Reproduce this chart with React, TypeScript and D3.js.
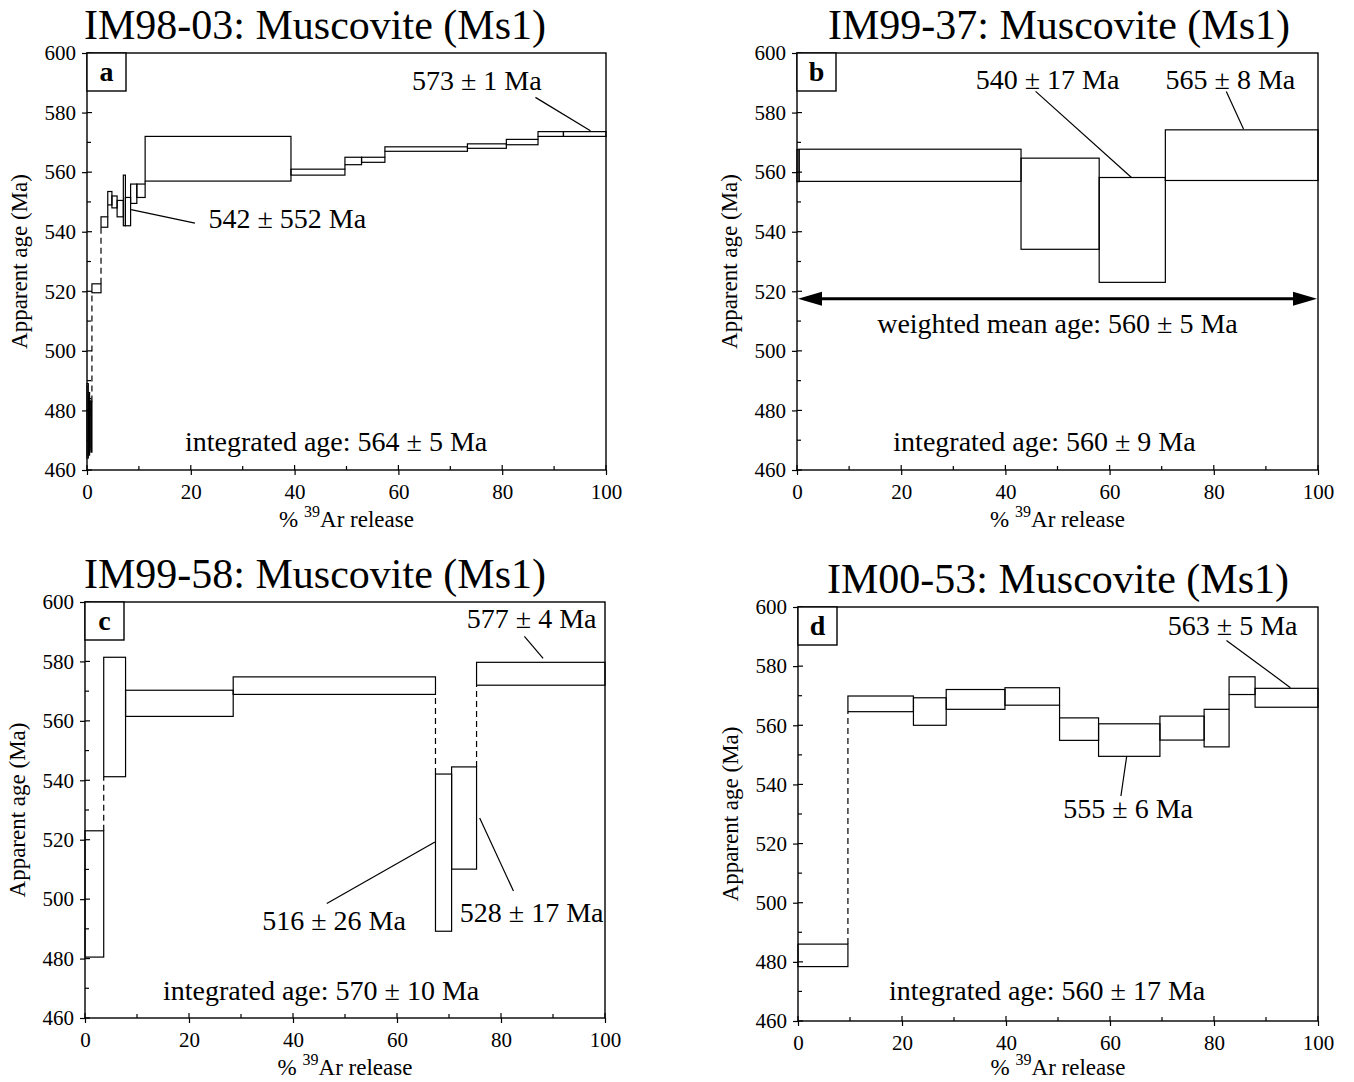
import React, { useEffect, useRef } from "react";
import * as d3 from "d3";

// step boundaries (% 39Ar released) and age ranges (Ma) per sample
const releaseA = [0, 0.25, 0.5, 0.75, 0.95, 2.7, 4.0, 4.8, 5.8, 7.0, 7.4, 8.4, 9.6, 11.2, 39.3, 49.7, 52.9, 57.4, 73.3, 80.8, 86.9, 91.8, 100];
const lowA = [464, 465, 467, 466, 519.5, 541.5, 549, 548, 545, 542, 542, 549.5, 551.5, 557, 559, 562.5, 563.3, 567, 568, 569.2, 572, 572];
const highA = [489, 486, 484, 483, 522.5, 545, 553.5, 552, 550.5, 559, 551.5, 556, 556, 572, 561, 565, 565, 568.5, 569.5, 571, 573.6, 573.6];

const releaseB = [0, 0.4, 43.0, 58.0, 70.7, 100];
const lowB = [556.8, 556.9, 534.1, 523.0, 557.2];
const highB = [567.6, 567.7, 564.7, 558.2, 574.2];

const releaseC = [0, 3.6, 7.8, 28.5, 67.4, 70.5, 75.3, 100];
const lowC = [480.5, 541.2, 561.5, 568.9, 489.2, 510.1, 572.0];
const highC = [523.0, 581.4, 570.3, 574.8, 542.1, 544.5, 579.7];

const releaseD = [0, 9.6, 22.2, 28.5, 39.8, 50.3, 57.8, 69.6, 78.1, 82.9, 87.9, 100];
const lowD = [478.4, 564.6, 560.0, 565.4, 566.8, 554.9, 549.5, 555.0, 552.7, 570.4, 566.1];
const highD = [486.0, 569.9, 569.3, 572.1, 572.7, 562.5, 560.5, 563.1, 565.4, 576.4, 572.5];

const yTicks = [460, 480, 500, 520, 540, 560, 580, 600];
const yMinor = [470, 490, 510, 530, 550, 570, 590];
const xTicks = [0, 20, 40, 60, 80, 100];
const xMinor = [10, 30, 50, 70, 90];

const panels = [
  {
    letter: "a", title: "IM98-03: Muscovite (Ms1)", titleX: 315,
    release: releaseA, low: lowA, high: highA,
    left: 87, top: 53, width: 519, height: 417, xTitleGap: 57,
    integrated: "integrated age: 564 \u00b1 5 Ma", intAt: [48, 466.3],
    notes: [
      { text: "573 \u00b1 1 Ma", at: [75.1, 587.5], line: [[86.4, 585.1], [97, 573.9]] },
      { text: "542 \u00b1 552 Ma", at: [38.6, 541.1], line: [[8.5, 547.4], [20.8, 542.9]] },
    ],
  },
  {
    letter: "b", title: "IM99-37: Muscovite (Ms1)", titleX: 1059,
    release: releaseB, low: lowB, high: highB,
    left: 797, top: 53, width: 521, height: 417, xTitleGap: 57,
    integrated: "integrated age: 560 \u00b1 9 Ma", intAt: [47.5, 466.3],
    weighted: { text: "weighted mean age: 560 \u00b1 5 Ma", age: 517.5, at: [50, 506] },
    notes: [
      { text: "540 \u00b1 17 Ma", at: [48.1, 588], line: [[45.8, 587.1], [64.2, 558.2]] },
      { text: "565 \u00b1 8 Ma", at: [83.2, 588], line: [[82.4, 587.1], [85.7, 574.5]] },
    ],
  },
  {
    letter: "c", title: "IM99-58: Muscovite (Ms1)", titleX: 315,
    release: releaseC, low: lowC, high: highC,
    left: 85, top: 602, width: 520, height: 416, xTitleGap: 57,
    integrated: "integrated age: 570 \u00b1 10 Ma", intAt: [45.4, 466],
    notes: [
      { text: "577 \u00b1 4 Ma", at: [85.9, 591.2], line: [[84.5, 588.4], [88.1, 581]] },
      { text: "516 \u00b1 26 Ma", at: [47.9, 489.5], line: [[46.5, 498.5], [67.3, 519.2]] },
      { text: "528 \u00b1 17 Ma", at: [85.9, 492.3], line: [[82.4, 502.7], [75.9, 527.3]] },
    ],
  },
  {
    letter: "d", title: "IM00-53: Muscovite (Ms1)", titleX: 1058,
    release: releaseD, low: lowD, high: highD,
    left: 798, top: 607, width: 520, height: 414, xTitleGap: 54,
    integrated: "integrated age: 560 \u00b1 17 Ma", intAt: [47.9, 467],
    notes: [
      { text: "563 \u00b1 5 Ma", at: [83.6, 590.7], line: [[82.4, 588.7], [94.7, 572.7]] },
      { text: "555 \u00b1 6 Ma", at: [63.5, 528.8], line: [[62.1, 536.1], [63.2, 549.4]] },
    ],
  },
];

const FONT = "'Liberation Serif', 'Times New Roman', serif";

const App = () => {
  const svgRef = useRef(null);

  useEffect(() => {
    const svg = d3.select(svgRef.current);
    svg.selectAll("*").remove();

    panels.forEach((p) => {
      const g = svg.append("g").attr("font-family", FONT);
      const x = d3.scaleLinear().domain([0, 100]).range([p.left, p.left + p.width]);
      const y = d3.scaleLinear().domain([460, 600]).range([p.top + p.height, p.top]);
      const bottom = p.top + p.height;

      // title
      g.append("text")
        .attr("x", p.titleX)
        .attr("y", p.top - 14)
        .attr("text-anchor", "middle")
        .attr("font-size", 42)
        .text(p.title);

      // steps
      const steps = p.low.map((lo, i) => ({
        x0: p.release[i],
        x1: p.release[i + 1],
        lo,
        hi: p.high[i],
      }));

      g.selectAll(".step")
        .data(steps)
        .join("rect")
        .attr("class", "step")
        .attr("x", (d) => x(d.x0))
        .attr("y", (d) => y(d.hi))
        .attr("width", (d) => x(d.x1) - x(d.x0))
        .attr("height", (d) => y(d.lo) - y(d.hi))
        .attr("fill", "none")
        .attr("stroke", "black")
        .attr("stroke-width", 1.2);

      // connectors between consecutive steps that do not overlap
      const links = [];
      steps.forEach((s, i) => {
        if (i === 0) return;
        const prev = steps[i - 1];
        if (s.lo > prev.hi) links.push({ x: s.x0, a: prev.hi, b: s.lo });
        else if (prev.lo > s.hi) links.push({ x: s.x0, a: s.hi, b: prev.lo });
      });
      g.selectAll(".link")
        .data(links)
        .join("line")
        .attr("class", "link")
        .attr("x1", (d) => x(d.x))
        .attr("x2", (d) => x(d.x))
        .attr("y1", (d) => y(d.a))
        .attr("y2", (d) => y(d.b))
        .attr("stroke", "black")
        .attr("stroke-width", 1.2)
        .attr("stroke-dasharray", (d) => (d.b - d.a > 10 ? "6,4" : null));

      // frame
      g.append("rect")
        .attr("x", p.left)
        .attr("y", p.top)
        .attr("width", p.width)
        .attr("height", p.height)
        .attr("fill", "none")
        .attr("stroke", "black")
        .attr("stroke-width", 1.4);

      // axes
      const ya = g.append("g")
        .attr("transform", `translate(${p.left},0)`)
        .call(d3.axisLeft(y).tickValues(yTicks).tickSize(5).tickPadding(6));
      const xa = g.append("g")
        .attr("transform", `translate(0,${bottom})`)
        .call(d3.axisBottom(x).tickValues(xTicks).tickSize(5).tickPadding(9));
      [ya, xa].forEach((a) => {
        a.attr("font-family", FONT);
        a.select(".domain").remove();
        a.selectAll("text").attr("font-size", 21).attr("font-family", FONT).attr("fill", "black");
        a.selectAll("line").attr("stroke-width", 1.2);
      });

      // inward ticks
      g.selectAll(".ytin")
        .data(yTicks.concat(yMinor))
        .join("line")
        .attr("x1", p.left)
        .attr("x2", (d) => p.left + (yTicks.includes(d) ? 5 : 4))
        .attr("y1", (d) => y(d))
        .attr("y2", (d) => y(d))
        .attr("stroke", "black")
        .attr("stroke-width", 1.2);
      g.selectAll(".xtin")
        .data(xTicks.concat(xMinor))
        .join("line")
        .attr("x1", (d) => x(d))
        .attr("x2", (d) => x(d))
        .attr("y1", bottom)
        .attr("y2", (d) => bottom - (xTicks.includes(d) ? 5 : 4))
        .attr("stroke", "black")
        .attr("stroke-width", 1.2);

      // axis titles
      g.append("text")
        .attr("transform", `translate(${p.left - 60},${p.top + p.height / 2}) rotate(-90)`)
        .attr("text-anchor", "middle")
        .attr("font-size", 23)
        .text("Apparent age (Ma)");

      const xt = g.append("text")
        .attr("x", p.left + p.width / 2)
        .attr("y", bottom + p.xTitleGap)
        .attr("text-anchor", "middle")
        .attr("font-size", 23);
      xt.append("tspan").text("% ");
      xt.append("tspan").attr("font-size", 16).attr("dy", -10).text("39");
      xt.append("tspan").attr("dy", 10).text("Ar release");

      // letter box
      g.append("rect")
        .attr("x", p.left)
        .attr("y", p.top)
        .attr("width", 39)
        .attr("height", 38)
        .attr("fill", "white")
        .attr("stroke", "black")
        .attr("stroke-width", 1.4);
      g.append("text")
        .attr("x", p.left + 19.5)
        .attr("y", p.top + 28)
        .attr("text-anchor", "middle")
        .attr("font-size", 28)
        .attr("font-weight", "bold")
        .text(p.letter);

      // annotations
      p.notes.forEach((n) => {
        g.append("text")
          .attr("x", x(n.at[0]))
          .attr("y", y(n.at[1]))
          .attr("text-anchor", "middle")
          .attr("font-size", 28)
          .text(n.text);
        g.append("line")
          .attr("x1", x(n.line[0][0]))
          .attr("y1", y(n.line[0][1]))
          .attr("x2", x(n.line[1][0]))
          .attr("y2", y(n.line[1][1]))
          .attr("stroke", "black")
          .attr("stroke-width", 1.2);
      });

      g.append("text")
        .attr("x", x(p.intAt[0]))
        .attr("y", y(p.intAt[1]))
        .attr("text-anchor", "middle")
        .attr("font-size", 28)
        .text(p.integrated);

      if (p.weighted) {
        const w = p.weighted;
        const ay = y(w.age);
        const x0 = x(0) + 1;
        const x1 = x(100) - 1;
        g.append("line")
          .attr("x1", x0 + 15)
          .attr("x2", x1 - 15)
          .attr("y1", ay)
          .attr("y2", ay)
          .attr("stroke", "black")
          .attr("stroke-width", 3);
        g.append("path")
          .attr("d", `M${x0},${ay}L${x0 + 24},${ay - 7}L${x0 + 24},${ay + 7}Z`)
          .attr("fill", "black");
        g.append("path")
          .attr("d", `M${x1},${ay}L${x1 - 24},${ay - 7}L${x1 - 24},${ay + 7}Z`)
          .attr("fill", "black");
        g.append("text")
          .attr("x", x(w.at[0]))
          .attr("y", y(w.at[1]))
          .attr("text-anchor", "middle")
          .attr("font-size", 28)
          .text(w.text);
      }
    });
  }, []);

  return (
    <svg
      ref={svgRef}
      width={1354}
      height={1082}
      style={{ position: "absolute", left: 0, top: 0, background: "white" }}
    ></svg>
  );
};

export default App;
